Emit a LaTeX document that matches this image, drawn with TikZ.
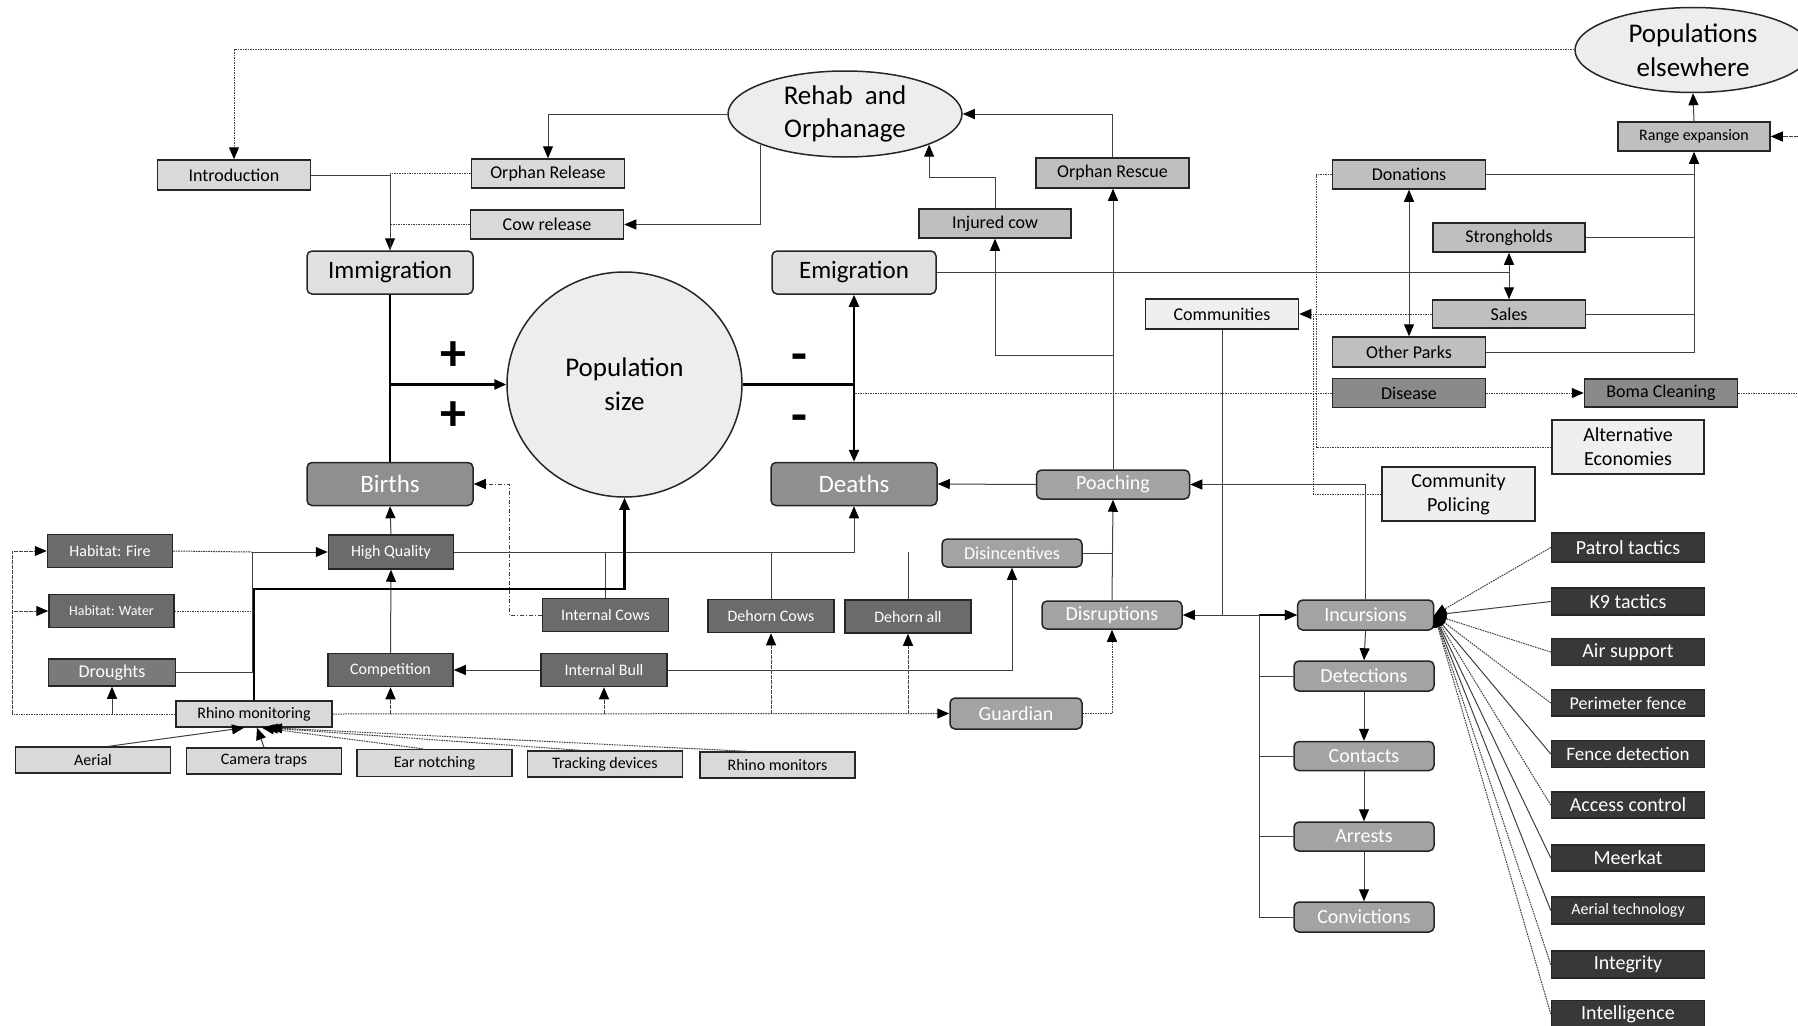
\documentclass[tikz,border=0pt]{standalone}
\usepackage{fontspec}
\setmainfont{Carlito}
\usetikzlibrary{shapes.geometric,arrows.meta,calc}
\definecolor{cVL}{HTML}{EFEFEF}
\definecolor{cEl}{HTML}{EDEDED}
\definecolor{cL}{HTML}{D9D9D9}
\definecolor{cIm}{HTML}{E0E0E0}
\definecolor{cM}{HTML}{BFBFBF}
\definecolor{cDis}{HTML}{8A8A8A}
\definecolor{cR}{HTML}{A3A3A3}
\definecolor{cBD}{HTML}{8F8F8F}
\definecolor{cD}{HTML}{6B6B6B}
\definecolor{cDr}{HTML}{7A7A7A}
\definecolor{cK}{HTML}{383838}
\newcommand{\fsz}[1]{\fontsize{#1}{#1}\selectfont}
\begin{document}
\begin{tikzpicture}[x=1pt,y=-1pt,
  >={Triangle[length=12pt,width=10pt,color=black]},
  box/.style={rectangle,draw=black!85,line width=1.5pt,inner sep=0pt,align=center},
  rbox/.style={box,rounded corners=5pt},
  ell/.style={ellipse,draw=black!85,line width=1.5pt,fill=cEl,inner sep=0pt,align=center},
  ln/.style={draw=black!75,line width=1pt},
  dl/.style={draw=black!75,line width=1pt,dash pattern=on 1.6pt off 0.9pt},
  ddl/.style={draw=black!75,line width=1pt,dash pattern=on 4pt off 2pt on 1pt off 2pt},
  thk/.style={draw=black,line width=2.6pt},
  wt/.style={text=white}
]
\useasboundingbox (0,0) rectangle (1798,1025);
\fill[white] (0,0) rectangle (1798,1025);

% ---------- top area ----------
\node[box,fill=cL,minimum width=153pt,minimum height=30pt,font=\fsz{18}] (Introduction) at (234,175) {Introduction};
\node[box,fill=cL,minimum width=153pt,minimum height=29pt,font=\fsz{18}] (OrphanRelease) at (548,173.5) {Orphan Release};
\node[box,fill=cL,minimum width=153pt,minimum height=29pt,font=\fsz{18}] (CowRelease) at (547,224.5) {Cow release};
\node[rbox,fill=cIm,minimum width=166pt,minimum height=43pt,font=\fsz{25}] (Immigration) at (390,272.5) {Immigration};
\node[ell,minimum width=234pt,minimum height=86pt,font=\fontsize{27}{34}\selectfont] (Rehab) at (845,114) {Rehab\ \ and\\[-1pt]\raisebox{0pt}{Orphanage}};
\node[ell,minimum width=236pt,minimum height=85pt,font=\fontsize{27}{34}\selectfont] (PopElse) at (1693,50) {Populations\\elsewhere};
\node[box,fill=cM,minimum width=153pt,minimum height=30pt,font=\fsz{18}] (OrphanRescue) at (1112.5,173) {Orphan Rescue};
\node[box,fill=cM,minimum width=152pt,minimum height=29pt,font=\fsz{18}] (InjuredCow) at (995,223.5) {Injured cow};
\node[rbox,fill=cIm,minimum width=164pt,minimum height=43pt,font=\fsz{25}] (Emigration) at (854,272.5) {Emigration};

% ---------- centre ----------
\node[ell,minimum width=235pt,minimum height=225pt,font=\fontsize{27}{34}\selectfont] (Population) at (624.5,384.5) {Population\\size};
\node[rbox,fill=cBD,wt,minimum width=166pt,minimum height=43pt,font=\fsz{25}] (Births) at (390,484) {Births};
\node[rbox,fill=cBD,wt,minimum width=166pt,minimum height=43pt,font=\fsz{25}] (Deaths) at (854,484) {Deaths};
\node[font=\bfseries\fsz{52}] (plusA) at (453,356) {+};
\node[font=\bfseries\fsz{52}] (plusB) at (453,416) {+};
\node[font=\bfseries\fsz{52}] (minusA) at (799,363) {-};
\node[font=\bfseries\fsz{52}] (minusB) at (799,424) {-};

% ---------- upper right ----------
\node[box,fill=cM,minimum width=153pt,minimum height=29pt,font=\fsz{18}] (Donations) at (1409,174.5) {Donations};
\node[box,fill=cM,minimum width=152pt,minimum height=29pt,font=\fsz{18}] (Strongholds) at (1509,237.5) {Strongholds};
\node[box,fill=cM,minimum width=152pt,minimum height=29pt,font=\fsz{16}] (RangeExp) at (1694,136.5) {Range expansion};
\node[box,fill=cVL,minimum width=153pt,minimum height=30pt,font=\fsz{18}] (Communities) at (1222,314) {Communities};
\node[box,fill=cM,minimum width=153pt,minimum height=28pt,font=\fsz{18}] (Sales) at (1509,314) {Sales};
\node[box,fill=cM,minimum width=153pt,minimum height=30pt,font=\fsz{18}] (OtherParks) at (1409,352) {Other Parks};
\node[box,fill=cDis,minimum width=153pt,minimum height=29pt,font=\fsz{18}] (Disease) at (1409,393) {Disease};
\node[box,fill=cDis,minimum width=153pt,minimum height=28pt,font=\fsz{18}] (Boma) at (1661,393) {Boma Cleaning};
\node[box,fill=cVL,minimum width=152pt,minimum height=54pt,font=\fontsize{20}{24}\selectfont] (AltEcon) at (1628,447) {Alternative\\Economies};
\node[box,fill=cVL,minimum width=153pt,minimum height=54pt,font=\fontsize{20}{24}\selectfont] (CommPol) at (1458.5,494) {Community\\Policing};

% ---------- poaching chain ----------
\node[rbox,fill=cR,wt,minimum width=153pt,minimum height=29pt,font=\fsz{20}] (Poaching) at (1113,484.5) {Poaching};
\node[rbox,fill=cR,wt,minimum width=140pt,minimum height=28pt,font=\fsz{18}] (Disincentives) at (1012,553) {Disincentives};
\node[rbox,fill=cR,wt,minimum width=140pt,minimum height=28pt,font=\fsz{20}] (Disruptions) at (1112,615) {Disruptions};
\node[rbox,fill=cR,wt,minimum width=132pt,minimum height=31pt,font=\fsz{20}] (Guardian) at (1016,713.5) {Guardian};
\node[rbox,fill=cR,wt,minimum width=136pt,minimum height=30pt,font=\fsz{20}] (Incursions) at (1365.6,615) {Incursions};
\node[rbox,fill=cR,wt,minimum width=140pt,minimum height=30pt,font=\fsz{20}] (Detections) at (1364,676) {Detections};
\node[rbox,fill=cR,wt,minimum width=140pt,minimum height=29pt,font=\fsz{20}] (Contacts) at (1364,756) {Contacts};
\node[rbox,fill=cR,wt,minimum width=140pt,minimum height=29pt,font=\fsz{20}] (Arrests) at (1364,836.5) {Arrests};
\node[rbox,fill=cR,wt,minimum width=140pt,minimum height=30pt,font=\fsz{20}] (Convictions) at (1364,917) {Convictions};

% ---------- lower left ----------
\node[box,fill=cD,wt,minimum width=125pt,minimum height=33pt,font=\fsz{16}] (HabFire) at (110,551) {Habitat: Fire};
\node[box,fill=cD,wt,minimum width=125pt,minimum height=33pt,font=\fsz{14}] (HabWater) at (111.5,611) {Habitat: Water};
\node[box,fill=cDr,wt,minimum width=127pt,minimum height=27pt,font=\fsz{18}] (Droughts) at (112,672.5) {Droughts};
\node[box,fill=cD,wt,minimum width=125pt,minimum height=34pt,font=\fsz{16}] (HighQuality) at (391,552) {High Quality};
\node[box,fill=cD,wt,minimum width=125pt,minimum height=33pt,font=\fsz{16}] (Competition) at (390.5,670) {Competition};
\node[box,fill=cL,minimum width=156pt,minimum height=26pt,font=\fsz{16}] (RhinoMon) at (254,714) {Rhino monitoring};
\node[box,fill=cL,minimum width=155pt,minimum height=26pt,font=\fsz{16}] (Aerial) at (93,760) {Aerial};
\node[box,fill=cL,minimum width=155pt,minimum height=26pt,font=\fsz{16}] (CameraTraps) at (264,761) {Camera traps};
\node[box,fill=cL,minimum width=155pt,minimum height=27pt,font=\fsz{16}] (EarNotching) at (434.5,763) {Ear notching};
\node[box,fill=cL,minimum width=155pt,minimum height=26pt,font=\fsz{16}] (TrackingDev) at (605,764) {Tracking devices};
\node[box,fill=cL,minimum width=155pt,minimum height=26pt,font=\fsz{16}] (RhinoMonitors) at (777.5,765) {Rhino monitors};
\node[box,fill=cD,wt,minimum width=126pt,minimum height=33pt,font=\fsz{16}] (InternalCows) at (605.5,615) {Internal Cows};
\node[box,fill=cD,wt,minimum width=126pt,minimum height=33pt,font=\fsz{16}] (DehornCows) at (771,616) {Dehorn Cows};
\node[box,fill=cD,wt,minimum width=126pt,minimum height=33pt,font=\fsz{16}] (DehornAll) at (908,616.5) {Dehorn all};
\node[box,fill=cD,wt,minimum width=126pt,minimum height=33pt,font=\fsz{16}] (InternalBull) at (604,670) {Internal Bull};

% ---------- right column ----------
\node[box,fill=cK,wt,minimum width=153pt,minimum height=29pt,font=\fsz{20}] (Patrol) at (1628,547.5) {Patrol tactics};
\node[box,fill=cK,wt,minimum width=153pt,minimum height=27pt,font=\fsz{20}] (K9) at (1628,601.5) {K9 tactics};
\node[box,fill=cK,wt,minimum width=153pt,minimum height=27pt,font=\fsz{20}] (Air) at (1628,652) {Air support};
\node[box,fill=cK,wt,minimum width=153pt,minimum height=26pt,font=\fsz{18}] (Perim) at (1628,703) {Perimeter fence};
\node[box,fill=cK,wt,minimum width=153pt,minimum height=27pt,font=\fsz{19}] (FenceDet) at (1628,754) {Fence detection};
\node[box,fill=cK,wt,minimum width=153pt,minimum height=26pt,font=\fsz{20}] (Access) at (1628,805) {Access control};
\node[box,fill=cK,wt,minimum width=153pt,minimum height=26pt,font=\fsz{20}] (Meerkat) at (1628,858) {Meerkat};
\node[box,fill=cK,wt,minimum width=153pt,minimum height=27pt,font=\fsz{16}] (AerialTech) at (1628,910.5) {Aerial technology};
\node[box,fill=cK,wt,minimum width=153pt,minimum height=27pt,font=\fsz{20}] (Integrity) at (1628,964.5) {Integrity};
\node[box,fill=cK,wt,minimum width=153pt,minimum height=27pt,font=\fsz{20}] (Intelligence) at (1628,1014) {Intelligence};

% ---------- helper coordinates ----------
\coordinate (redgeA) at (1798,136.5);
\coordinate (redgeB) at (1798,393);
\coordinate (dbusA) at (1316,314);
\coordinate (dbusB) at (1313,314);
\coordinate (pj) at (1113,355);
\coordinate (tk) at (254,589);
\coordinate (hb) at (252,552);
\coordinate (lb) at (12,714);
\coordinate (ic) at (509,615);
\coordinate (cj) at (1222,615);
\coordinate (bus) at (1259,615);
\coordinate (ij) at (995,177);

% ---------- connectors: top ----------
\draw[dl,->] (PopElse.west) -| (Introduction.north);
\draw[ln,->] (Rehab.west) -| (OrphanRelease.north);
\draw[ln,->] (Rehab.200) |- (CowRelease.east);
\draw[ln,->] (InjuredCow.north) -- (ij) -| (Rehab.-20);
\draw[ln,->] (OrphanRescue.north) |- (Rehab.east);
\draw[ln,->] (Introduction.east) -| (Immigration.north);
\draw[dl] (OrphanRelease.west) -| (Immigration.north);
\draw[dl] (CowRelease.west) -| (Immigration.north);

% ---------- main flows ----------
\draw[thk] (Immigration.south) -- (Births.north);
\draw[thk,->] (Immigration.south |- Population.west) -- (Population.west);
\draw[thk] (Population.east) -- (Deaths.north |- Population.east);
\draw[thk,->] (Deaths.north |- Population.east) -- (Emigration.south);
\draw[thk,->] (Deaths.north |- Population.east) -- (Deaths.north);

% ---------- right top ----------
\draw[ln] (Emigration.east) -- (Strongholds.south |- Emigration.east);
\draw[ln,<->] (Strongholds.south) -- (Sales.north);
\draw[ln,<->] (Donations.south) -- (OtherParks.north);
\draw[ln,->] (OtherParks.east) -| (RangeExp.south);
\draw[ln] (Donations.east) -- (RangeExp.south |- Donations.east);
\draw[ln] (Strongholds.east) -- (RangeExp.south |- Strongholds.east);
\draw[ln] (Sales.east) -- (RangeExp.south |- Sales.east);
\draw[ln,->] (RangeExp.north) -- (PopElse.south);
\draw[dl,->] (redgeA) -- (RangeExp.east);
\draw[dl] (Boma.east) -- (redgeB);
\draw[dl,->] (Disease.east) -- (Boma.west);
\draw[dl] (Disease.west) -- (Deaths.north |- Disease.west);
\draw[dl,->] (Sales.west) -- (Communities.east);
\draw[dl] (Donations.west) -| (dbusA);
\draw[dl] (AltEcon.west) -| (dbusA);
\draw[dl] (CommPol.west) -| (dbusB);

% ---------- poaching / incursions ----------
\draw[ln] (Communities.south) -- (cj);
\draw[ln,->] (cj) -- (Disruptions.east);
\draw[ln,->] (cj) -- (Incursions.west);
\draw[thk,line width=1.8pt,->] (bus) -- (Incursions.west);
\draw[ln] (Detections.west) -| (bus);
\draw[ln] (Contacts.west) -| (bus);
\draw[ln] (Arrests.west) -| (bus);
\draw[ln] (Convictions.west) -| (bus);
\draw[ln,->] (Incursions.south) -- (Detections.north);
\draw[ln,->] (Detections.south) -- (Contacts.north);
\draw[ln,->] (Contacts.south) -- (Arrests.north);
\draw[ln,->] (Arrests.south) -- (Convictions.north);
\draw[ln,->] (Incursions.north) |- (Poaching.east);
\draw[ln,->] (Poaching.west) -- (Deaths.east);
\draw[ln,->] (Poaching.north) -- (Poaching.north |- OrphanRescue.south);
\draw[ln,->] (pj) -| (InjuredCow.south);
\draw[ln,->] (Disruptions.north) -- (Poaching.south);
\draw[ln] (Disincentives.east) -- (Poaching.south |- Disincentives.east);
\draw[ln,->] (InternalBull.east) -| (Disincentives.south);
\draw[ln,->] (InternalBull.west) -- (Competition.east);
\draw[ln,->] (Competition.north) -- (HighQuality.south);
\draw[ln,->] (HighQuality.north) -- (Births.south);
\draw[ln,->] (HighQuality.east) -| (Deaths.south);
\draw[ln] (InternalCows.north) -- (InternalCows.north |- HighQuality.east);
\draw[ln] (DehornCows.north) -- (DehornCows.north |- HighQuality.east);
\draw[ln] (DehornAll.north) -- (DehornAll.north |- HighQuality.east);
\draw[ddl,->] (InternalCows.west) -- (ic) |- (Births.east);

% right column to incursions
\draw[dl,->] (Patrol.west) -- (Incursions.east);
\draw[ln,->] (K9.west) -- (Incursions.east);
\draw[dl,->] (Air.west) -- (Incursions.east);
\draw[dl,->] (Perim.west) -- (Incursions.east);
\draw[ln,->] (FenceDet.west) -- (Incursions.east);
\draw[dl,->] (Access.west) -- (Incursions.east);
\draw[ln,->] (Meerkat.west) -- (Incursions.east);
\draw[ln,->] (AerialTech.west) -- (Incursions.east);
\draw[dl,->] (Integrity.west) -- (Incursions.east);
\draw[dl,->] (Intelligence.west) -- (Incursions.east);

% ---------- rhino monitoring ----------
\draw[thk,->] (RhinoMon.north) -- (tk) -| (Population.south);
\draw[dl,->] (RhinoMon.east) -- (Guardian.west);
\draw[dl,->] (Competition.south |- RhinoMon.east) -- (Competition.south);
\draw[dl,->] (InternalBull.south |- RhinoMon.east) -- (InternalBull.south);
\draw[dl,->] (DehornCows.south |- RhinoMon.east) -- (DehornCows.south);
\draw[dl,->] (DehornAll.south |- RhinoMon.east) -- (DehornAll.south);
\draw[dl,->] (Guardian.east) -| (Disruptions.south);
\draw[dl] (RhinoMon.west) -- (lb);
\draw[dl,->] (lb) |- (HabFire.west);
\draw[dl,->] (lb) |- (HabWater.west);
\draw[ln,->] (Droughts.south |- RhinoMon.west) -- (Droughts.south);
\draw[dl] (HabFire.east) -- (hb);
\draw[ln,->] (hb) -- (HighQuality.west);
\draw[dl] (HabWater.east) -| (hb);
\draw[ln] (Droughts.east) -| (hb);
\draw[ln,->] ([xshift=16pt]Aerial.north) -- ([xshift=-10pt]RhinoMon.south);
\draw[ln,->] (CameraTraps.north) -- ([xshift=3pt]RhinoMon.south);
\draw[dl,->] ([xshift=-12pt]EarNotching.north) -- ([xshift=8pt]RhinoMon.south);
\draw[dl,->] ([xshift=-25pt]TrackingDev.north) -- ([xshift=12pt]RhinoMon.south);
\draw[dl,->] ([xshift=-32pt]RhinoMonitors.north) -- ([xshift=16pt]RhinoMon.south);
\end{tikzpicture}
\end{document}
